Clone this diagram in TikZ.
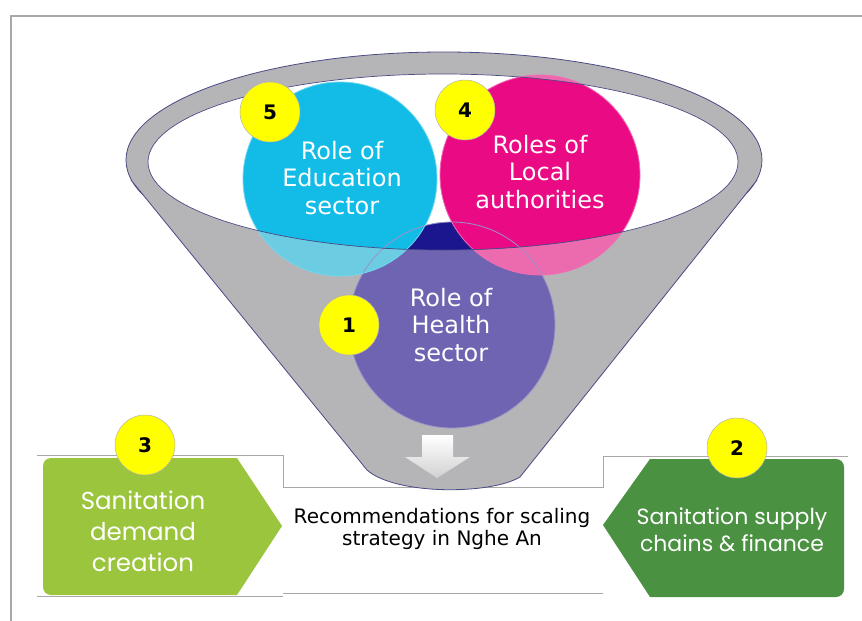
\documentclass[tikz,border=0pt]{standalone}
\usepackage{fontspec}
\newfontfamily\dvfont{DejaVu Sans}
\newfontfamily\popfont{Poppins}
\definecolor{funnelgray}{HTML}{B5B5B7}
\definecolor{funneledge}{HTML}{4A4A86}
\definecolor{cyantop}{HTML}{12BCE6}
\definecolor{cyanlow}{HTML}{6CCDE2}
\definecolor{pinktop}{HTML}{EA0A84}
\definecolor{pinklow}{HTML}{EC6AAE}
\definecolor{purptop}{HTML}{1C168E}
\definecolor{purplow}{HTML}{6E64B2}
\definecolor{lgreen}{HTML}{9BC53D}
\definecolor{dgreen}{HTML}{4B9142}
\definecolor{badgey}{HTML}{FFFF00}
\definecolor{boxline}{HTML}{A8A8A8}
\begin{document}
\begin{tikzpicture}[x=1pt,y=-1pt,
  badge/.style={circle, fill=badgey, draw=black!30, line width=0.5pt, minimum size=60pt, inner sep=0pt, font=\dvfont\bfseries\fontsize{20}{20}\selectfont},
  ctext/.style={align=center, text=white, inner sep=0pt, font=\dvfont\fontsize{24}{27.5}\selectfont},
  gtext/.style={align=center, text=white, inner sep=0pt},
  edgeline/.style={draw=funneledge, line width=0.8pt},
  panel/.style={draw=boxline, line width=0.8pt}]
\fill[white] (0,0) rectangle (862,621);
\useasboundingbox (0,0) rectangle (862,621);
% frame
\draw[boxline, line width=1.2pt] (11,621) -- (11,16) -- (862,16);
% bottom panels
\node[fill=white, minimum width=320pt, minimum height=106pt, inner sep=0pt, anchor=north west] (mid) at (283,487) {};
\draw[panel] (37,455) -- (283,455) -- (283,487) -- (603,487) -- (603,456) -- (848,456);
\draw[panel] (37,596) -- (283,596);
\draw[panel] (283,593) -- (603,593);
\node[align=center, inner sep=0pt, font=\dvfont\fontsize{20}{21.5}\selectfont] (midt) at (442,529) {Recommendations for scaling\\strategy in Nghe An};
% green shapes
\fill[lgreen] (140,458) [rounded corners=8pt] -- (43,458) -- (43,595) -- (140,595) [sharp corners] -- (237,595) -- (282,526) -- (237,458) -- cycle;
\fill[dgreen] (740,459) [rounded corners=8pt] -- (844,459) -- (844,597) -- (740,597) [sharp corners] -- (650,597) -- (603,525) -- (650,459) -- cycle;
\node[gtext, font=\popfont\fontsize{24.5}{31}\selectfont] (lt) at (143,531) {Sanitation\\demand\\creation};
\node[gtext, font=\popfont\fontsize{22}{26.5}\selectfont] (rt) at (732,530) {Sanitation supply\\chains \& finance};
% funnel
\fill[funnelgray] (444,160) ellipse[x radius=318pt, y radius=108pt];
\draw[edgeline] (444,160) ellipse[x radius=318pt, y radius=108pt];
\fill[funnelgray] (131,180) -- (367,470) .. controls (395,495) and (490,495) .. (520,477) -- (757,180) -- cycle;
\draw[edgeline] (131,180) -- (367,470) .. controls (395,495) and (490,495) .. (520,477) -- (757,180);
\fill[white] (443,162) ellipse[x radius=295pt, y radius=88pt];
% circles (lower parts, seen through the funnel front)
\fill[purplow] (452,325) circle[radius=103pt];
\fill[cyanlow] (340,179) circle[radius=97pt];
\fill[pinklow] (540,175) circle[radius=100pt];
\begin{scope}
  \clip (443,162) ellipse[x radius=295pt, y radius=88pt];
  \fill[purptop] (452,325) circle[radius=103pt];
  \fill[cyantop] (340,179) circle[radius=97pt];
  \fill[pinktop] (540,175) circle[radius=100pt];
\end{scope}
\draw[purplow!70!white, line width=0.8pt] (452,325) circle[radius=103pt];
\draw[cyantop!60!white, line width=0.8pt] (340,179) circle[radius=97pt];
\draw[pinktop!60!white, line width=0.8pt] (540,175) circle[radius=100pt];
\draw[draw=funneledge, line width=0.7pt] (443,162) ellipse[x radius=295pt, y radius=88pt];
% circle texts
\node[ctext] (edu) at (342,178) {Role of\\Education\\sector};
\node[ctext] (loc) at (540,172) {Roles of\\Local\\authorities};
\node[ctext] (hea) at (451,325) {Role of\\Health\\sector};
% arrow
\shade[top color=white, bottom color=black!18] (422,435) -- (453,435) -- (453,457) -- (470,457) -- (437,478) -- (405,457) -- (422,457) -- cycle;
% badges
\node[badge] (b5) at (270,112) {5};
\node[badge] (b4) at (465,110) {4};
\node[badge] (b1) at (349,325) {1};
\node[badge] (b3) at (145,445) {3};
\node[badge] (b2) at (737,448) {2};
\end{tikzpicture}
\end{document}
